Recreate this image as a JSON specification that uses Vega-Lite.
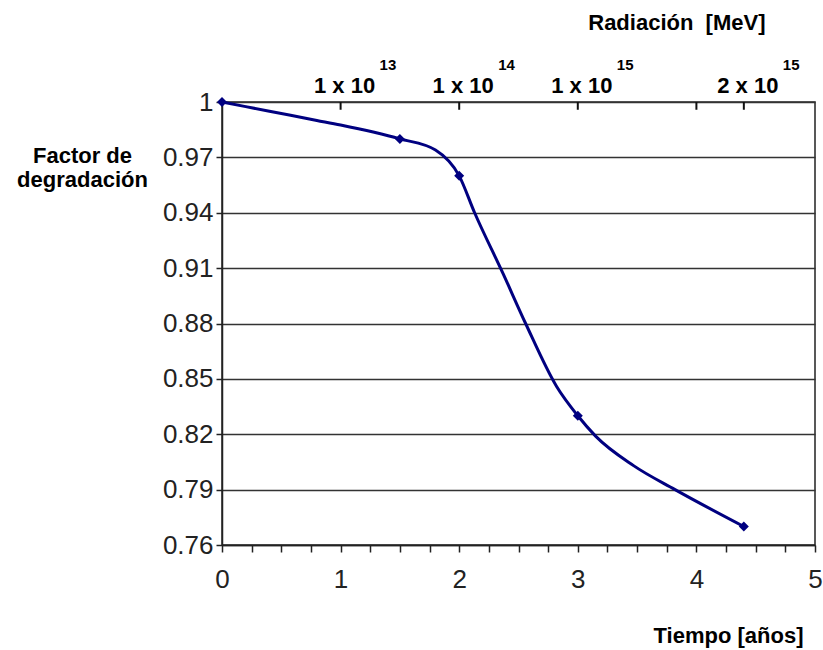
{
  "$schema": "https://vega.github.io/schema/vega-lite/v6.json",
  "autosize": {"type": "none"},
  "width": 593,
  "height": 443,
  "padding": {"left": 222, "top": 102, "right": 8, "bottom": 105},
  "background": "white",
  "config": {
    "font": "Liberation Sans",
    "view": {"stroke": "#222", "strokeWidth": 1.5}
  },
  "datasets": {
    "curve": [
      {"t": 0.0, "f": 1.0},
      {"t": 0.4, "f": 0.995},
      {"t": 0.8, "f": 0.990},
      {"t": 1.0, "f": 0.9875},
      {"t": 1.5, "f": 0.980},
      {"t": 1.8, "f": 0.974},
      {"t": 2.0, "f": 0.960},
      {"t": 2.13, "f": 0.940},
      {"t": 2.37, "f": 0.907},
      {"t": 2.56, "f": 0.880},
      {"t": 2.82, "f": 0.846},
      {"t": 3.0, "f": 0.830},
      {"t": 3.15, "f": 0.819},
      {"t": 3.47, "f": 0.803},
      {"t": 3.82, "f": 0.790},
      {"t": 4.4, "f": 0.770}
    ],
    "markers": [
      {"t": 0.0, "f": 1.0},
      {"t": 1.5, "f": 0.980},
      {"t": 2.0, "f": 0.960},
      {"t": 3.0, "f": 0.830},
      {"t": 4.4, "f": 0.770}
    ],
    "radiation": [
      {"t": 1, "base": "1 x 10", "exp": "13"},
      {"t": 2, "base": "1 x 10", "exp": "14"},
      {"t": 3, "base": "1 x 10", "exp": "15"},
      {"t": 4.4, "base": "2 x 10", "exp": "15"}
    ],
    "topticks": [
      {"t": 1, "top": 1, "bottom": 0.9958},
      {"t": 2, "top": 1, "bottom": 0.9958},
      {"t": 3, "top": 1, "bottom": 0.9958},
      {"t": 4, "top": 1, "bottom": 0.9958},
      {"t": 4.4, "top": 1, "bottom": 0.9958}
    ]
  },
  "layer": [
    {
      "data": {"name": "curve"},
      "mark": {"type": "line", "interpolate": "monotone", "color": "#000080", "strokeWidth": 3},
      "encoding": {
        "x": {
          "field": "t", "type": "quantitative",
          "scale": {"domain": [0, 5], "nice": false},
          "axis": {
            "orient": "bottom",
            "values": [0, 0.25, 0.5, 0.75, 1, 1.25, 1.5, 1.75, 2, 2.25, 2.5, 2.75, 3, 3.25, 3.5, 3.75, 4, 4.25, 4.5, 4.75, 5],
            "labelExpr": "datum.value % 1 === 0 ? format(datum.value, 'd') : ''",
            "labelFontSize": 26,
            "labelColor": "#222",
            "labelPadding": 14,
            "labelFlush": false,
            "labelOverlap": false,
            "tickSize": 7,
            "tickColor": "#222",
            "tickWidth": 1.5,
            "domainColor": "#222",
            "domainWidth": 1.5,
            "grid": false,
            "title": "Tiempo [años]",
            "titleFontSize": 22,
            "titleFontWeight": "bold",
            "titleColor": "#000",
            "titleAlign": "right",
            "titleBaseline": "middle",
            "titleX": 581,
            "titleY": 90
          }
        },
        "y": {
          "field": "f", "type": "quantitative",
          "scale": {"domain": [0.76, 1], "nice": false, "zero": false},
          "axis": {
            "values": [0.76, 0.79, 0.82, 0.85, 0.88, 0.91, 0.94, 0.97, 1],
            "format": ".2~f",
            "labelFontSize": 26,
            "labelColor": "#222",
            "labelPadding": 3,
            "tickSize": 6,
            "tickColor": "#222",
            "tickWidth": 1.5,
            "domainColor": "#222",
            "domainWidth": 1.5,
            "grid": true,
            "gridColor": "#333",
            "gridWidth": 1.5,
            "title": ["Factor de", "degradación"],
            "titleFontSize": 22,
            "titleFontWeight": "bold",
            "titleColor": "#000",
            "titleAngle": 0,
            "titleAlign": "center",
            "titleBaseline": "alphabetic",
            "titleLineHeight": 24,
            "titleX": -140,
            "titleY": 60
          }
        }
      }
    },
    {
      "data": {"name": "topticks"},
      "mark": {"type": "rule", "color": "#111", "strokeWidth": 2},
      "encoding": {
        "x": {"field": "t", "type": "quantitative", "axis": null},
        "y": {"field": "top", "type": "quantitative"},
        "y2": {"field": "bottom"}
      }
    },
    {
      "data": {"name": "markers"},
      "mark": {"type": "point", "shape": "diamond", "filled": true, "color": "#000080", "size": 100, "opacity": 1},
      "encoding": {
        "x": {"field": "t", "type": "quantitative", "axis": null},
        "y": {"field": "f", "type": "quantitative"}
      }
    },
    {
      "data": {"name": "radiation"},
      "mark": {"type": "text", "fontSize": 22, "fontWeight": "bold", "align": "center", "baseline": "middle", "dx": 4, "dy": -16, "color": "#000"},
      "encoding": {
        "x": {
          "field": "t", "type": "quantitative",
          "axis": {
            "orient": "top",
            "values": [1, 2, 3, 4, 4.4],
            "labels": false,
            "domain": false,
            "grid": false,
            "ticks": false,
            "title": "Radiación \u00a0[MeV]",
            "titleFontSize": 22,
            "titleFontWeight": "bold",
            "titleColor": "#000",
            "titleAlign": "right",
            "titleBaseline": "middle",
            "titleX": 543,
            "titleY": -80
          }
        },
        "y": {"datum": 1},
        "text": {"field": "base"}
      }
    },
    {
      "data": {"name": "radiation"},
      "mark": {"type": "text", "fontSize": 15, "fontWeight": "bold", "align": "left", "baseline": "middle", "dx": 39, "dy": -37, "color": "#000"},
      "encoding": {
        "x": {"field": "t", "type": "quantitative", "axis": null},
        "y": {"datum": 1},
        "text": {"field": "exp"}
      }
    }
  ],
  "resolve": {"axis": {"x": "independent"}}
}
